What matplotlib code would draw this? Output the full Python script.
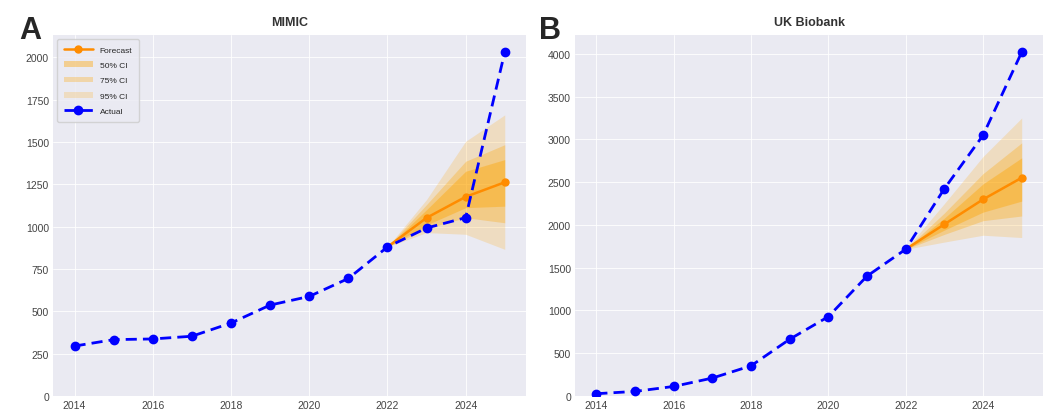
import matplotlib
matplotlib.use("Agg")
import matplotlib.pyplot as plt
import numpy as np

# Years
years = [2014, 2015, 2016, 2017, 2018, 2019, 2020, 2021, 2022, 2023, 2024, 2025]
fc_years = [2022, 2023, 2024, 2025]

# MIMIC
mimic_actual = [295, 333, 337, 353, 431, 537, 588, 694, 880, 992, 1053, 2030]
mimic_fc = [880, 1052, 1176, 1262]
mimic_50 = ([880, 1010, 1112, 1121], [880, 1100, 1327, 1396])
mimic_75 = ([880, 990, 1053, 1023], [880, 1130, 1386, 1484])
mimic_95 = ([880, 965, 955, 866], [880, 1160, 1504, 1660])

# UK Biobank
ukb_actual = [27, 54, 112, 210, 353, 664, 928, 1402, 1716, 2424, 3048, 4020]
ukb_fc = [1716, 2008, 2299, 2552]
ukb_50 = ([1716, 1940, 2150, 2279], [1716, 2080, 2480, 2785])
ukb_75 = ([1716, 1890, 2050, 2105], [1716, 2140, 2600, 2960])
ukb_95 = ([1716, 1800, 1880, 1853], [1716, 2250, 2800, 3251])

plt.style.use("seaborn-v0_8-darkgrid")
plt.rcParams["grid.linewidth"] = 0.6
plt.rcParams["font.family"] = ["Liberation Sans", "DejaVu Sans"]

fig = plt.figure(figsize=(10.61, 4.14), dpi=100)
ax1 = fig.add_axes([0.050, 0.041, 0.446, 0.872])
ax2 = fig.add_axes([0.542, 0.041, 0.441, 0.872])


def panel(ax, title, actual, fc, ci50, ci75, ci95, legend=False):
    ax.plot(fc_years, fc, color="darkorange", marker="o", lw=1.8, ms=5,
            label="Forecast", zorder=3)
    ax.fill_between(fc_years, ci50[0], ci50[1], color="orange", alpha=0.4,
                    lw=0, label="50% CI")
    ax.fill_between(fc_years, ci75[0], ci75[1], color="orange", alpha=0.3,
                    lw=0, label="75% CI")
    ax.fill_between(fc_years, ci95[0], ci95[1], color="orange", alpha=0.2,
                    lw=0, label="95% CI")
    ax.plot(years, actual, color="blue", ls="--", marker="o", lw=2, ms=6,
            dashes=(4, 2.2), label="Actual", zorder=4)
    ax.set_ylim(0, max(actual) * 1.05)
    ax.set_xticks(range(2014, 2026, 2))
    ax.tick_params(labelsize=7.5, colors="#444444", pad=3)
    ax.set_title(title, fontsize=9, fontweight="bold", color="#333333", pad=7)
    if legend:
        ax.legend(loc="upper left", fontsize=6, frameon=True, framealpha=0.8,
                  borderpad=0.8, labelspacing=0.9, handlelength=3.5)


panel(ax1, "MIMIC", mimic_actual, mimic_fc, mimic_50, mimic_75, mimic_95,
      legend=True)
panel(ax2, "UK Biobank", ukb_actual, ukb_fc, ukb_50, ukb_75, ukb_95)

# panel letters (D and E belong to the next row, cut by the crop)
for x, y, s in [(0.018, 0.905, "A"), (0.508, 0.905, "B"),
                (0.018, -0.075, "D"), (0.508, -0.075, "E")]:
    fig.text(x, y, s, fontsize=22, fontweight="bold")

fig.savefig("out.png", dpi=100)
